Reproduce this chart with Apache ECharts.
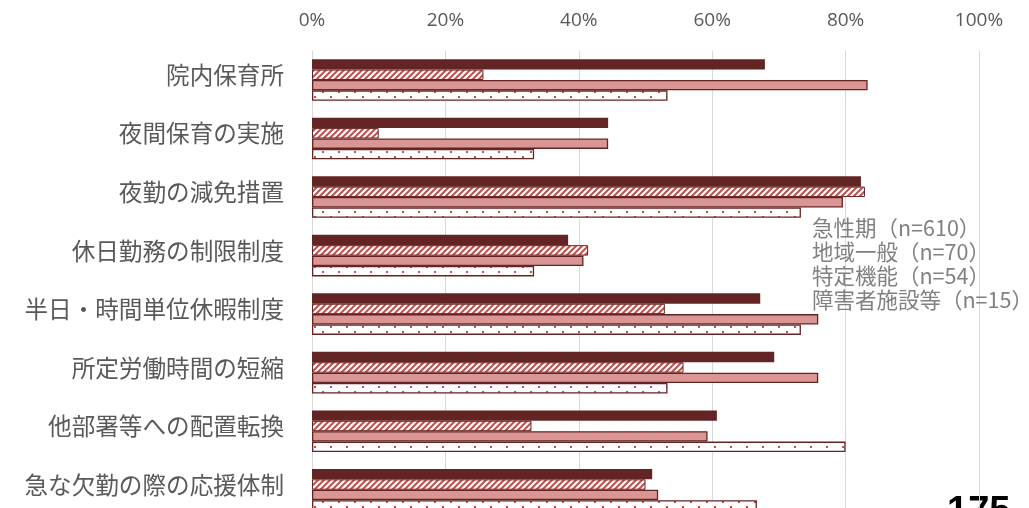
<!DOCTYPE html>
<html>
<head>
<meta charset="utf-8">
<script src="https://cdn.jsdelivr.net/npm/echarts@6/dist/echarts.min.js"></script>
<style>
  html, body { margin: 0; padding: 0; background: #fff; }
  #chart { width: 1029px; height: 508px; }
</style>
</head>
<body>
<div id="chart"></div>
<script>
const categories = ['院内保育所', '夜間保育の実施', '夜勤の減免措置', '休日勤務の制限制度',
  '半日・時間単位休暇制度', '所定労働時間の短縮', '他部署等への配置転換', '急な欠勤の際の応援体制'];
const seriesNames = ['急性期（n=610）', '地域一般（n=70）', '特定機能（n=54）', '障害者施設等（n=15）'];
const acute = [67.9, 44.4, 82.3, 38.4, 67.2, 69.3, 60.7, 51.0];
const regional = [25.7, 10.0, 82.9, 41.4, 52.9, 55.7, 32.9, 50.0];
const special = [83.3, 44.4, 79.6, 40.7, 75.9, 75.9, 59.3, 51.9];
const disabled = [53.3, 33.3, 73.3, 33.3, 73.3, 53.3, 80.0, 66.7];
const xTicks = [0, 20, 40, 60, 80, 100];

const dark = '#632523';
const red = '#C0504D';
const pink = '#D99694';

function hatchPattern() {
  const c = document.createElement('canvas');
  c.width = 6; c.height = 6;
  const g = c.getContext('2d');
  g.fillStyle = '#fff';
  g.fillRect(0, 0, 6, 6);
  g.strokeStyle = red;
  g.lineWidth = 2;
  g.beginPath();
  g.moveTo(0, 6); g.lineTo(6, 0);
  g.moveTo(-3, 3); g.lineTo(3, -3);
  g.moveTo(3, 9); g.lineTo(9, 3);
  g.stroke();
  return c;
}
function dotPattern() {
  const c = document.createElement('canvas');
  c.width = 16; c.height = 10;
  const g = c.getContext('2d');
  g.fillStyle = '#fff';
  g.fillRect(0, 0, 16, 10);
  g.fillStyle = red;
  g.fillRect(2, 1, 2, 2);
  g.fillRect(10, 6, 2, 2);
  return c;
}

var myChart = echarts.init(document.getElementById('chart'), null, { renderer: 'canvas' });

const barBase = { type: 'bar', barWidth: 10.4, barGap: '0%', animation: false };

var option = {
  backgroundColor: '#fff',
  grid: { left: 312, top: 50.7, width: 667, height: 468.3, containLabel: false, outerBoundsMode: 'none' },
  legend: {
    data: seriesNames,
    orient: 'vertical',
    left: 802,
    top: 211,
    icon: 'none',
    itemWidth: 0,
    itemHeight: 24,
    itemGap: 0,
    textStyle: { color: '#808080', fontSize: 21.5, fontFamily: 'Noto Sans CJK JP', lineHeight: 24 }
  },
  xAxis: {
    type: 'value',
    position: 'top',
    min: 0,
    max: 100,
    interval: 20,
    axisLine: { show: false },
    axisTick: { show: false },
    axisLabel: {
      formatter: v => xTicks.includes(v) ? v + '%' : '',
      color: '#595959',
      fontSize: 19,
      fontFamily: 'Open Sans',
      margin: 21
    },
    splitLine: { show: true, lineStyle: { color: '#D9D9D9', width: 1 } }
  },
  yAxis: {
    type: 'category',
    data: categories,
    inverse: true,
    axisLine: { show: false },
    axisTick: { show: false },
    axisLabel: {
      margin: 28,
      formatter: v => '{c|' + v + '}',
      rich: {
        c: {
          color: '#595959',
          fontSize: 23.6,
          fontFamily: 'Noto Sans CJK JP',
          padding: [0, 0, 10, 0]
        }
      }
    }
  },
  series: [
    Object.assign({}, barBase, { name: seriesNames[0], data: acute,
      itemStyle: { color: dark } }),
    Object.assign({}, barBase, { name: seriesNames[1], data: regional,
      itemStyle: { color: { image: hatchPattern(), repeat: 'repeat' }, borderColor: dark, borderWidth: 1 } }),
    Object.assign({}, barBase, { name: seriesNames[2], data: special,
      itemStyle: { color: pink, borderColor: dark, borderWidth: 1.3 } }),
    Object.assign({}, barBase, { name: seriesNames[3], data: disabled,
      itemStyle: { color: { image: dotPattern(), repeat: 'repeat' }, borderColor: dark, borderWidth: 1.3 } })
  ],
  graphic: [{
    type: 'text',
    left: 947,
    top: 494,
    style: { text: '175', fontSize: 38, fontWeight: 'bold', fontFamily: 'Liberation Sans', fill: '#000' }
  }]
};

myChart.setOption(option);
window.addEventListener('resize', myChart.resize);
</script>
</body>
</html>
